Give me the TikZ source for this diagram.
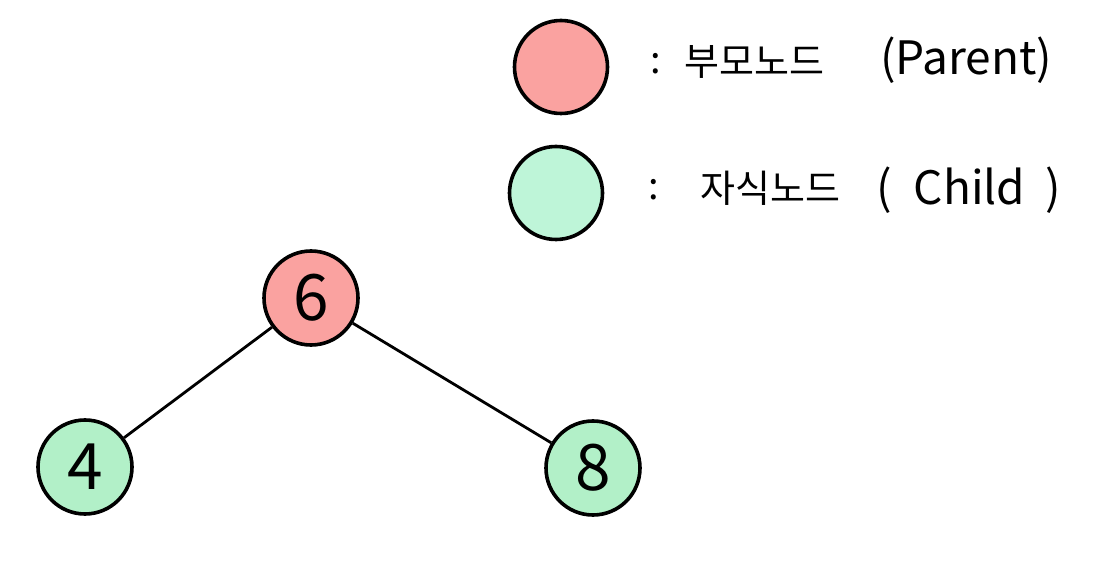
\documentclass[tikz,border=0pt]{standalone}
\usepackage{fontspec}
\setmainfont{Noto Sans CJK KR}
\definecolor{parentfill}{RGB}{250,162,160}
\definecolor{childfill}{RGB}{190,245,216}
\definecolor{leaffill}{RGB}{178,240,200}
\begin{document}
\begin{tikzpicture}[x=1pt,y=-1pt,
  treenode/.style={circle,draw=black,line width=3.6pt,minimum size=94pt,inner sep=0pt,
    font=\fontsize{64}{64}\selectfont},
  keynode/.style={circle,draw=black,line width=3.6pt,minimum size=93pt,inner sep=0pt},
  edge/.style={line width=2.8pt,draw=black},
  label/.style={anchor=west,inner sep=0pt,font=\fontsize{38}{42}\selectfont},
  latin/.style={anchor=west,inner sep=0pt,font=\fontsize{46}{50}\selectfont}]
  \fill[white] (0,0) rectangle (1104,561);
  \useasboundingbox (0,0) rectangle (1104,561);

  % legend
  \node[keynode,fill=parentfill] (kp) at (561,67) {};
  \node[keynode,fill=childfill] (kc) at (556,193) {};
  \node[label] (cp) at (650,64) {:};
  \node[label] (tp) at (684,62) {부모노드};
  \node[latin] (ep) at (880,60) {(Parent)};
  \node[label] (cc) at (648,190) {:};
  \node[label] (tc) at (700,188) {자식노드};
  \node[latin] (ec) at (876,190) {(\hspace{22pt}Child\hspace{20pt})};

  % tree
  \node[treenode,fill=parentfill] (n6) at (311,298) {6};
  \node[treenode,fill=leaffill] (n4) at (85,467) {4};
  \node[treenode,fill=leaffill] (n8) at (593,468) {8};
  \draw[edge] (n6) -- (n4);
  \draw[edge] (n6) -- (n8);
\end{tikzpicture}
\end{document}
